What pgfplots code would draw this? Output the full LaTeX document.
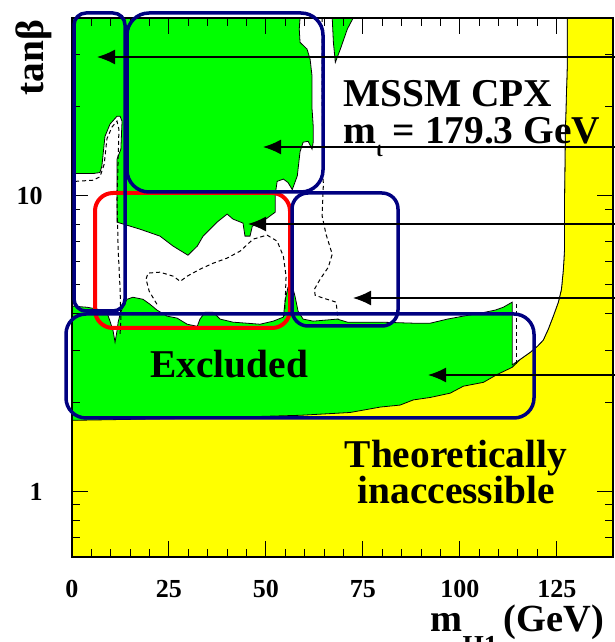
\documentclass[border=0pt]{standalone}
\usepackage{pgfplots}
\pgfplotsset{compat=1.18}
\usepackage{fontspec}
\setmainfont{Liberation Serif}
\usetikzlibrary{arrows.meta}
\definecolor{excl}{RGB}{0,255,0}
\definecolor{theo}{RGB}{255,255,0}
\definecolor{boxblue}{RGB}{0,0,128}
\definecolor{boxred}{RGB}{255,0,0}
\newcommand{\bigbf}{\fontsize{19.7}{22}\selectfont\bfseries}

\begin{document}
\begin{tikzpicture}[x=1pt,y=1pt]
\useasboundingbox (-36,-42.5) rectangle (271.5,278.5);
\begin{axis}[
  at={(0,0)}, anchor=south west,
  scale only axis, width=270.5pt, height=269.5pt,
  xmin=0, xmax=139.5, ymin=0.6, ymax=40,
  ymode=log,
  axis on top,
  axis line style={line width=0.8pt},
  tick align=inside,
  major tick length=8pt, minor tick length=4pt,
  every tick/.style={black, line width=0.5pt},
  xtick={0,25,50,75,100,125},
  minor x tick num=4,
  ytick={1,10}, yticklabels={1,10},
  minor ytick={0.7,0.8,0.9,2,3,4,5,6,7,8,9,20,30},
  /pgf/number format/assume math mode=true,
  xticklabel style={font=\fontsize{13}{15}\selectfont\bfseries, anchor=base, yshift=-20.5pt},
  yticklabel style={font=\fontsize{13}{15}\selectfont\bfseries, anchor=east, inner xsep=0pt, xshift=-14.5pt},
  xlabel={m\raisebox{-11.5pt}{\fontsize{13.7}{14}\selectfont H1}\,(GeV)},
  x label style={at={(axis description cs:0.662,-0.1373)}, anchor=base west, inner sep=0pt, font=\fontsize{19.2}{21}\selectfont\bfseries},
  ylabel={tanβ},
  y label style={at={(axis description cs:-0.070,0.926)}, anchor=center, font=\bigbf},
]
% allowed parameter space, excluded at 95% CL (background)
\addplot[fill=excl, draw=none] coordinates {
  (0,0.6) (139.5,0.6) (139.5,40) (0,40)
} -- cycle;

% theoretically inaccessible region
\addplot[fill=theo, draw=black, line width=0.4pt] coordinates {
  (0,0.6) (139.5,0.6) (139.5,40) (127.7,40) (127.7,27.5) (127.2,16.4)
  (127.0,9.75) (127.0,6.61) (126.7,5.65) (126.2,4.83) (125.4,4.37)
  (124.1,3.92) (122.8,3.54) (121.5,3.25) (120.0,3.10) (118.2,2.96)
  (115.6,2.80) (113.5,2.63) (109.7,2.49) (106.1,2.34) (100.9,2.27)
  (97.5,2.15) (92.4,2.08) (88.0,2.04) (84.6,1.96) (79.5,1.93)
  (71.7,1.85) (58.8,1.81) (33.0,1.77) (0,1.74)
} -- cycle;

% region not excluded
\addplot[fill=white, draw=black, line width=0.4pt] coordinates {
  (0,4.24) (3.9,4.20) (6.5,4.14) (9.0,4.04) (9.8,3.77) (10.6,3.49)
  (11.1,3.20) (11.6,3.49) (11.9,3.74) (12.4,3.98) (13.2,4.24) (14.2,4.47)
  (15.7,4.54) (18.3,4.47) (20.1,4.30) (21.9,4.11) (24.5,3.92) (27.1,3.86)
  (29.7,3.68) (32.3,3.62) (33.0,3.83) (34.3,4.04) (36.4,4.04) (38.2,3.83)
  (41.5,3.74) (48.5,3.68) (51.9,3.77) (54.5,3.89) (55.0,4.47) (55.7,4.91)
  (56.8,4.95) (57.5,4.58) (58.3,4.07) (59.6,3.83) (62.2,3.77) (68.4,3.83)
  (71.0,3.74) (79.5,3.74) (88.0,3.71) (92.4,3.71) (96.8,3.83) (100.9,3.92)
  (105.3,4.01) (109.2,4.11) (111.2,4.20) (113.5,4.37) (113.5,2.68)
  (115.6,2.80) (118.2,2.96) (120.0,3.10) (121.5,3.25) (122.8,3.54)
  (124.1,3.92) (125.4,4.37) (126.2,4.83) (126.7,5.65) (127.0,6.61)
  (127.0,9.75) (127.2,16.4) (127.7,27.5) (127.7,40)
  (72.5,40) (71.0,36.7) (69.2,31.4) (67.9,28.3) (67.4,33.1) (67.1,40)
  (58.8,40) (58.6,36.7) (58.8,33.1) (60.6,31.4) (61.4,29.0) (61.9,25.4)
  (61.9,19.7) (62.2,17.2) (62.2,15.2) (61.9,14.4) (60.9,15.3) (59.6,15.2)
  (58.8,14.1) (58.1,11.7) (56.8,10.5) (55.7,11.1) (54.5,11.4) (52.9,11.2)
  (52.4,10.1) (52.4,8.81) (49.3,8.22) (46.5,7.90) (45.9,7.31) (44.6,7.31)
  (44.1,8.09) (41.5,8.35) (40.0,8.68) (37.4,8.15) (33.8,7.31) (32.3,6.76)
  (29.9,6.30) (26.1,6.76) (22.7,7.31) (17.5,7.72) (14.2,7.96) (11.6,8.15)
  (11.6,9.75) (11.6,13.3) (12.6,14.4) (12.9,17.9) (12.4,18.6) (11.6,18.6)
  (9.8,17.5) (8.5,15.9) (7.7,12.6) (7.2,12.0) (5.4,11.9) (0,11.9)
} -- cycle;

% expected limits
\addplot[black, line width=0.5pt, dash pattern=on 2pt off 1.5pt] coordinates {
  (0.8,11.2) (5.4,11.3) (7.2,11.6) (8.3,12.8) (9.0,15.6) (10.3,17.1)
  (11.6,17.9) (12.1,16.8) (11.9,13.3) (11.6,9.75) (11.9,6.61) (12.4,4.83)
  (12.6,3.83) (12.4,3.41)
};
\addplot[black, line width=0.5pt, dash pattern=on 2pt off 1.5pt] coordinates {
  (21.9,4.30) (19.9,4.76) (19.1,5.23) (19.6,5.48) (22.7,5.52) (26.1,5.35)
  (27.9,5.14) (29.7,5.35) (33.0,5.65) (36.4,5.92) (40.0,6.16) (43.4,6.51)
  (46.7,7.14) (50.3,7.37) (52.9,7.03) (54.5,6.25) (55.2,5.35) (55.0,4.47)
  (54.7,3.83)
};
\addplot[black, line width=0.5pt, dash pattern=on 2pt off 1.5pt] coordinates {
  (64.5,40) (64.5,21.2) (64.8,10.8) (64.5,8.55) (65.5,7.42) (67.1,6.35)
  (66.1,5.74) (64.0,5.23) (62.5,4.83) (62.7,4.61) (64.8,4.51) (68.1,4.37)
  (68.6,3.83)
};
\addplot[black, line width=0.5pt, dash pattern=on 2pt off 1.5pt] coordinates {
  (114.6,4.30) (114.6,2.68)
};
\end{axis}

% labels
\node[anchor=base west, inner sep=0pt, font=\bigbf] at (135.5,225) {MSSM CPX};
\node[anchor=base west, inner sep=0pt, font=\bigbf] at (135.5,206.5)
  {m\raisebox{-6.5pt}{\fontsize{10}{10}\selectfont t} = 179.3 GeV};
\node[anchor=base west, inner sep=0pt, font=\bigbf] at (39,89.5) {Excluded};
\node[anchor=base, inner sep=0pt, font=\bigbf] at (192,44.5) {Theoretically};
\node[anchor=base, inner sep=0pt, font=\bigbf] at (192,27) {inaccessible};

% highlighted regions
\draw[boxred, line width=2pt, rounded corners=9pt] (11.5,114.5) rectangle (109,182);
\draw[boxblue, line width=1.75pt, rounded corners=6pt] (1,123) rectangle (26.5,272);
\draw[boxblue, line width=1.75pt, rounded corners=11pt] (27.5,182.5) rectangle (125.5,272);
\draw[boxblue, line width=1.75pt, rounded corners=8pt] (110,115.5) rectangle (163,182);
\draw[boxblue, line width=1.75pt, rounded corners=10pt] (-3,69.5) rectangle (231,121.5);

% pointers
\foreach \yy/\xx in {250/12.5, 205/95.5, 166.5/88, 129.5/140.5, 91/178}
  \draw[black, line width=0.75pt, -{Latex[length=9pt,width=7.5pt]}] (271.5,\yy) -- (\xx,\yy);
\end{tikzpicture}
\end{document}
